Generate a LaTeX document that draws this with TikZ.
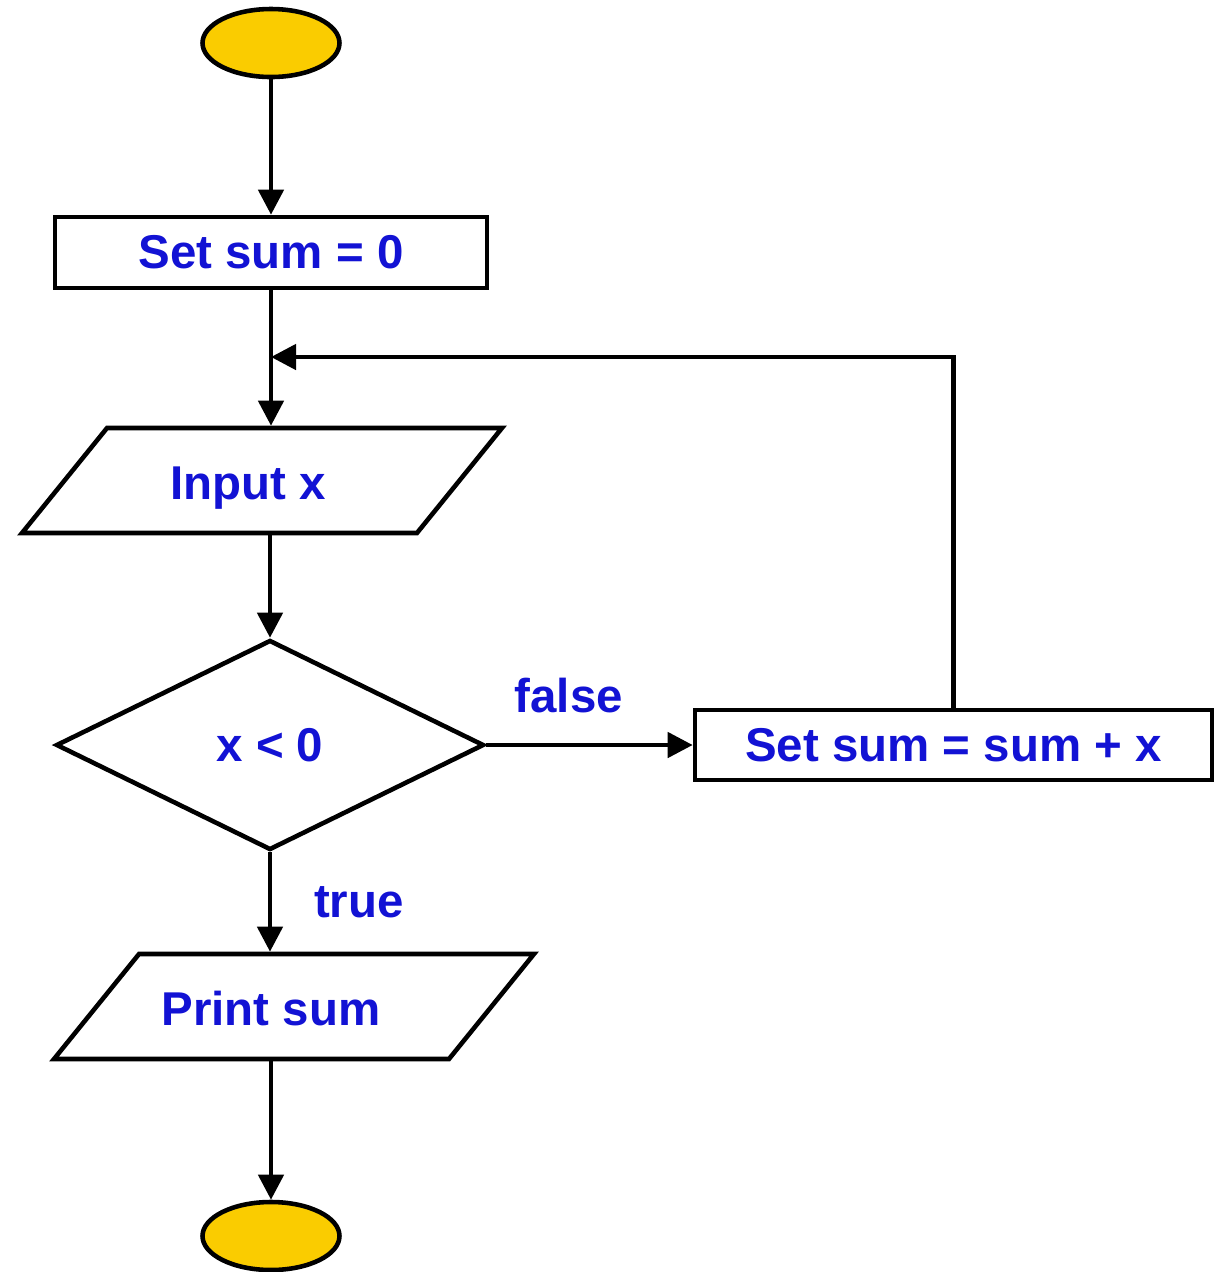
\documentclass[tikz,border=0pt]{standalone}
\usepackage{fontspec}
\setmainfont{Liberation Sans}
\usepackage{tikz}
\usetikzlibrary{arrows.meta,shapes.geometric,calc}
\definecolor{txtblue}{RGB}{18,18,212}
\definecolor{termyellow}{RGB}{250,204,0}
\begin{document}
\begin{tikzpicture}[line width=1.3pt,
  every node/.style={font=\fontsize{13.5}{16}\selectfont\bfseries, text=txtblue},
  >={Triangle[length=0.25cm,width=0.25cm]},
  term/.style={draw, ellipse, fill=termyellow, minimum width=1.37cm, minimum height=0.68cm, inner sep=0pt},
  proc/.style={draw, rectangle, fill=white, minimum height=0.71cm, inner sep=0pt},
  io/.style={draw, trapezium, trapezium left angle=51, trapezium right angle=129, trapezium stretches body,
    text height=0.40cm, text depth=0.03cm, inner ysep=0.31cm, inner xsep=0pt, minimum width=4.8cm},
  test/.style={draw, diamond, minimum width=4.28cm, minimum height=2.1cm, inner sep=0pt}]
\useasboundingbox (0,0) rectangle (12.21,-12.72);
% shapes
\node[term] (start) at (2.71,-0.43) {};
\node[proc, minimum width=4.32cm] (init) at (2.71,-2.525) {Set sum = 0};
\coordinate (join) at (2.71,-3.57);
\node[io] (input) at (2.62,-4.805) {Input x\hspace*{0.28cm}};
\node[test] (check) at (2.70,-7.45) {x < 0};
\node[proc, minimum width=5.17cm, minimum height=0.70cm] (update) at (9.535,-7.45) {Set sum = sum + x};
\node[io] (print) at (2.94,-10.065) {Print sum\hspace*{0.46cm}};
\node[term] (stop) at (2.71,-12.36) {};
% connectors
\draw[->] (start) -- (init);%
\draw[->] (init.south) -- (init.south |- input.north);%
\draw[->] (update.north) |- (join);%
\draw[->] (check.north |- input.south) -- (check.north);%
\draw[->] (check.east) -- node[above=0.18cm, pos=0.4] {false} (update.west);%
\draw[->] (check.south) -- node[right=0.3cm] {true} (check.south |- print.north);%
\draw[->] (stop.north |- print.south) -- (stop.north);%
\end{tikzpicture}
\end{document}
